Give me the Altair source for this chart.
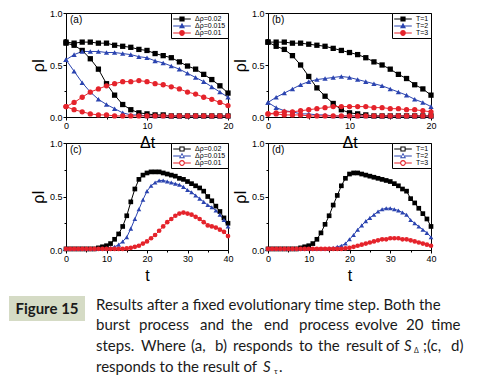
import altair as alt
import pandas as pd

# ---------------- data ----------------
dt = list(range(21))
t = list(range(41))

a_labels = ["Δρ=0.02", "Δρ=0.015", "Δρ=0.01"]
b_labels = ["T=1", "T=2", "T=3"]

# panel (a): two curves per series (slow decay / fast decay)
a_black_1 = [0.72, 0.71, 0.72, 0.72, 0.71, 0.71, 0.69, 0.68, 0.67, 0.65, 0.64,
             0.61, 0.59, 0.57, 0.53, 0.49, 0.46, 0.41, 0.36, 0.30, 0.23]
a_black_2 = [0.71, 0.69, 0.64, 0.56, 0.46, 0.32, 0.21, 0.12, 0.07, 0.04, 0.03,
             0.02, 0.02, 0.01, 0.01, 0.01, 0.01, 0.01, 0.01, 0.01, 0.01]
a_blue_1 = [0.55, 0.60, 0.63, 0.63, 0.63, 0.62, 0.62, 0.61, 0.60, 0.58, 0.57,
            0.54, 0.52, 0.49, 0.46, 0.42, 0.38, 0.34, 0.29, 0.24, 0.19]
a_blue_2 = [0.55, 0.44, 0.33, 0.24, 0.17, 0.12, 0.08, 0.04, 0.02, 0.02, 0.01,
            0.01, 0.01, 0.01, 0.01, 0.01, 0.01, 0.01, 0.01, 0.01, 0.01]
a_red_1 = [0.10, 0.14, 0.19, 0.24, 0.27, 0.30, 0.32, 0.34, 0.34, 0.35, 0.34,
           0.32, 0.31, 0.29, 0.27, 0.24, 0.22, 0.19, 0.17, 0.14, 0.11]
a_red_2 = [0.10, 0.07, 0.05, 0.03, 0.02, 0.02, 0.01, 0.01, 0.01, 0.01, 0.01,
           0.01, 0.01, 0.01, 0.01, 0.01, 0.01, 0.01, 0.01, 0.01, 0.01]

# panel (b)
b_black_1 = [0.72, 0.72, 0.72, 0.71, 0.71, 0.70, 0.69, 0.68, 0.66, 0.64, 0.62,
             0.60, 0.57, 0.53, 0.50, 0.46, 0.41, 0.37, 0.31, 0.27, 0.21]
b_black_2 = [0.72, 0.68, 0.65, 0.59, 0.50, 0.39, 0.28, 0.20, 0.13, 0.07, 0.04,
             0.03, 0.02, 0.01, 0.01, 0.01, 0.01, 0.01, 0.01, 0.01, 0.01]
b_blue_1 = [0.14, 0.19, 0.23, 0.27, 0.31, 0.34, 0.36, 0.37, 0.38, 0.39, 0.38,
            0.36, 0.34, 0.32, 0.30, 0.27, 0.24, 0.21, 0.17, 0.14, 0.10]
b_blue_2 = [0.14, 0.09, 0.06, 0.05, 0.03, 0.03, 0.02, 0.02, 0.01, 0.01, 0.01,
            0.01, 0.01, 0.01, 0.01, 0.01, 0.01, 0.01, 0.01, 0.01, 0.01]
b_red_1 = [0.03, 0.04, 0.05, 0.05, 0.06, 0.07, 0.08, 0.09, 0.10, 0.10, 0.10,
           0.10, 0.10, 0.09, 0.09, 0.08, 0.08, 0.07, 0.07, 0.06, 0.05]
b_red_2 = [0.03, 0.03, 0.02, 0.02, 0.02, 0.01, 0.01, 0.01, 0.01, 0.01, 0.01,
           0.01, 0.01, 0.01, 0.01, 0.01, 0.01, 0.01, 0.01, 0.01, 0.01]

# panel (c)
c_black = [0.01, 0.01, 0.01, 0.01, 0.01, 0.01, 0.01, 0.01, 0.02, 0.03, 0.04,
           0.06, 0.10, 0.15, 0.22, 0.32, 0.45, 0.57, 0.66, 0.70, 0.72,
           0.73, 0.73, 0.73, 0.72, 0.71, 0.70, 0.69, 0.67, 0.66, 0.64,
           0.62, 0.60, 0.58, 0.55, 0.50, 0.46, 0.41, 0.36, 0.30, 0.25]
c_blue = [0.01, 0.01, 0.01, 0.01, 0.01, 0.01, 0.01, 0.01, 0.01, 0.01, 0.015,
          0.02, 0.03, 0.05, 0.08, 0.12, 0.20, 0.29, 0.38, 0.47, 0.55,
          0.60, 0.63, 0.65, 0.65, 0.64, 0.63, 0.62, 0.61, 0.59, 0.56,
          0.54, 0.51, 0.48, 0.45, 0.42, 0.40, 0.37, 0.33, 0.28, 0.22]
c_red = [0.01, 0.01, 0.01, 0.01, 0.01, 0.01, 0.01, 0.01, 0.01, 0.01, 0.01,
         0.01, 0.01, 0.01, 0.01, 0.015, 0.02, 0.03, 0.04, 0.06, 0.08,
         0.11, 0.14, 0.18, 0.22, 0.26, 0.29, 0.32, 0.34, 0.35, 0.34,
         0.33, 0.31, 0.29, 0.26, 0.23, 0.22, 0.21, 0.19, 0.17, 0.13]

# panel (d)
d_black = [0.01, 0.01, 0.01, 0.01, 0.01, 0.01, 0.01, 0.01, 0.02, 0.03, 0.04,
           0.06, 0.10, 0.16, 0.24, 0.32, 0.42, 0.51, 0.60, 0.67, 0.71,
           0.72, 0.72, 0.71, 0.70, 0.69, 0.68, 0.67, 0.66, 0.65, 0.64,
           0.62, 0.60, 0.57, 0.55, 0.48, 0.44, 0.39, 0.34, 0.29, 0.22]
d_blue = [0.01, 0.01, 0.01, 0.01, 0.01, 0.01, 0.01, 0.01, 0.01, 0.01, 0.01,
          0.01, 0.01, 0.01, 0.01, 0.015, 0.02, 0.03, 0.04, 0.06, 0.10,
          0.14, 0.19, 0.23, 0.27, 0.30, 0.33, 0.36, 0.38, 0.39, 0.39,
          0.38, 0.37, 0.35, 0.33, 0.28, 0.25, 0.22, 0.19, 0.16, 0.12]
d_red = [0.01, 0.01, 0.01, 0.01, 0.01, 0.01, 0.01, 0.01, 0.01, 0.01, 0.01,
         0.01, 0.01, 0.01, 0.01, 0.01, 0.01, 0.01, 0.01, 0.015, 0.02,
         0.03, 0.04, 0.05, 0.06, 0.07, 0.08, 0.09, 0.10, 0.10, 0.11,
         0.11, 0.11, 0.10, 0.10, 0.09, 0.08, 0.07, 0.06, 0.05, 0.04]

caption_title = "Figure 15"
caption_line1 = "Results after a fixed evolutionary time step. Both the"
caption_line2 = ["burst", "process", "and", "the", "end", "process", "evolve", "20", "time"]
caption_line3 = ["steps.", "Where", "(a,", "b)", "responds", "to", "the", "result", "of"]
caption_line3_tail = [";(c,", "d)"]
caption_line4 = "responds to the result of"

COLORS = ["#000000", "#2b44b0", "#e5232b"]
FONT = "Liberation Sans"
CAPFONT = "Lato"


def make_df(xs, labels, curves):
    rows = []
    for lab, group in zip(labels, curves):
        for ci, ys in enumerate(group):
            for x, y in zip(xs, ys):
                rows.append({"x": x, "y": y, "series": lab, "curve": f"{lab}|{ci}"})
    return pd.DataFrame(rows)


LINE = "M-2.2,-0.14H2.2V0.14H-2.2Z "
FILLED_PATHS = [
    LINE + "M-0.65,-0.65H0.65V0.65H-0.65Z",
    LINE + "M0,-0.8L0.75,0.55H-0.75Z",
    LINE + "M-0.72,0A0.72,0.72,0,1,1,0.72,0A0.72,0.72,0,1,1,-0.72,0Z",
]
OPEN_PATHS = [
    "M-2.2,-0.14H-0.6V0.14H-2.2Z M0.6,-0.14H2.2V0.14H0.6Z "
    "M-0.65,-0.65H0.65V0.65H-0.65Z M-0.4,-0.4V0.4H0.4V-0.4Z",
    "M-2.2,-0.14H-0.5V0.14H-2.2Z M0.5,-0.14H2.2V0.14H0.5Z "
    "M0,-0.8L0.75,0.55H-0.75Z M0,-0.35L-0.4,0.3H0.4Z",
    "M-2.2,-0.14H-0.6V0.14H-2.2Z M0.6,-0.14H2.2V0.14H0.6Z "
    "M-0.72,0A0.72,0.72,0,1,1,0.72,0A0.72,0.72,0,1,1,-0.72,0Z "
    "M-0.45,0A0.45,0.45,0,1,0,0.45,0A0.45,0.45,0,1,0,-0.45,0Z",
]


def panel(df, labels, tag, xtitle, xmax, w, h, paths, msize):
    cscale = alt.Scale(domain=labels, range=COLORS)
    xenc = alt.X(
        "x:Q",
        scale=alt.Scale(domain=[0, xmax], nice=False, zero=False),
        axis=alt.Axis(
            values=list(range(0, xmax + 1, 5)),
            labelExpr="datum.value % 10 === 0 ? datum.label : ''",
            tickSize={"condition": {"test": "datum.value % 10 === 0", "value": 3}, "value": 2},
            title=xtitle, labelFlush=False, grid=False,
            titleFontSize=16, titlePadding=4, labelPadding=1,
        ),
    )
    yenc = alt.Y(
        "y:Q",
        scale=alt.Scale(domain=[0, 1], nice=False),
        axis=alt.Axis(
            values=[0, 0.25, 0.5, 0.75, 1],
            format=".1f",
            labelExpr="datum.value % 0.5 === 0 ? datum.label : ''",
            tickSize={"condition": {"test": "datum.value % 0.5 === 0", "value": 3}, "value": 2},
            title="ρI", grid=False, labelFlush=False,
            titleFontSize=16, titlePadding=3, labelPadding=1,
        ),
    )
    legend = alt.Legend(
        orient="top-right", offset=0, title=None,
        strokeColor="black", fillColor="white",
        padding=2, rowPadding=0, labelFontSize=7, labelFont=FONT,
        symbolSize=64, symbolStrokeWidth=0, symbolOpacity=1,
        symbolOffset=5, labelOffset=9, labelLimit=80,
    )
    base = alt.Chart(df)
    lines = base.mark_line(strokeWidth=1).encode(
        x=xenc, y=yenc,
        color=alt.Color("series:N", scale=cscale, legend=None),
        detail="curve:N", order="x:Q",
    )
    pts = base.mark_point(filled=True, opacity=1, size=msize).encode(
        x=xenc, y=yenc,
        color=alt.Color("series:N", scale=cscale, legend=None),
        shape=alt.Shape("series:N",
                        scale=alt.Scale(domain=labels, range=["square", "triangle-up", "circle"]),
                        legend=None),
    )
    leg = base.transform_filter("false").mark_point(filled=True, opacity=1).encode(
        x=xenc, y=yenc,
        color=alt.Color("series:N", scale=cscale, legend=legend),
        shape=alt.Shape("series:N", scale=alt.Scale(domain=labels, range=paths), legend=legend),
    )
    tag_layer = alt.Chart(pd.DataFrame({"t": [tag]})).mark_text(
        align="left", baseline="middle", fontSize=10, font=FONT, color="black"
    ).encode(text="t:N", x=alt.value(4), y=alt.value(7))
    return alt.layer(lines, pts, leg, tag_layer).resolve_scale(
        color="independent", shape="independent"
    ).properties(width=w, height=h)


df_a = make_df(dt, a_labels, [[a_black_1, a_black_2], [a_blue_1, a_blue_2], [a_red_1, a_red_2]])
df_b = make_df(dt, b_labels, [[b_black_1, b_black_2], [b_blue_1, b_blue_2], [b_red_1, b_red_2]])
df_c = make_df(t, a_labels, [[c_black], [c_blue], [c_red]])
df_d = make_df(t, b_labels, [[d_black], [d_blue], [d_red]])

pa = panel(df_a, a_labels, "(a)", "Δt", 20, 162, 104, FILLED_PATHS, 28)
pb = panel(df_b, b_labels, "(b)", "Δt", 20, 163, 104, FILLED_PATHS, 28)
pc = panel(df_c, a_labels, "(c)", "t", 40, 162, 107, OPEN_PATHS, 22)
pd_ = panel(df_d, b_labels, "(d)", "t", 40, 163, 107, OPEN_PATHS, 22)


# ---------------- caption ----------------
def ctext(s, x, y, size=15, style="normal", weight="normal", align="left"):
    return alt.Chart(pd.DataFrame({"s": [s]})).mark_text(
        font=CAPFONT, fontSize=size, fontStyle=style, fontWeight=weight,
        color="#1a1a1a", align=align, baseline="middle",
    ).encode(text="s:N", x=alt.value(x), y=alt.value(y))


one = pd.DataFrame({"k": [0]})
cap_box = alt.Chart(one).mark_rect(color="#d5dbc5").encode(
    x=alt.value(-57), x2=alt.value(19), y=alt.value(20), y2=alt.value(45)
)
cap_layers = [cap_box, ctext(caption_title, -19, 33, weight="bold", align="center")]

# justified lines: word start positions
line2_x = [30, 73, 134, 165, 198, 233, 289, 340, 365]
line3_x = [30, 75, 125, 149, 167, 233, 252, 280, 320]
line3_tail_x = [357, 385]

cap_layers.append(ctext(caption_line1, 30, 29))
for wd, xx in zip(caption_line2, line2_x):
    cap_layers.append(ctext(wd, xx, 49))
for wd, xx in zip(caption_line3, line3_x):
    cap_layers.append(ctext(wd, xx, 70))
cap_layers += [
    ctext("S", 338, 70, style="italic"),
    ctext("Δ", 348, 75, size=7),
]
for wd, xx in zip(caption_line3_tail, line3_tail_x):
    cap_layers.append(ctext(wd, xx, 70))
cap_layers += [
    ctext(caption_line4, 30, 91),
    ctext("S", 197, 91, style="italic"),
    ctext("τ", 208, 96, size=8),
    ctext(".", 213, 91),
]
caption = alt.layer(*cap_layers).properties(
    width=162, height=100, view=alt.ViewBackground(stroke="transparent")
)

chart = alt.concat(
    pa, pb, pc, pd_, caption,
    columns=2, spacing={"row": 26, "column": 40}, bounds="flush", align="each",
).properties(padding=0).configure(font=FONT).configure_view(
    stroke="black", strokeWidth=1
).configure_axis(
    labelFont=FONT, labelFontSize=9, labelColor="black",
    titleFont=FONT, titleFontWeight="normal", titleColor="black",
    domainColor="black", tickColor="black", domainWidth=1, tickWidth=1,
)

chart.save("out.html", embed_options={"renderer": "svg", "actions": False})
